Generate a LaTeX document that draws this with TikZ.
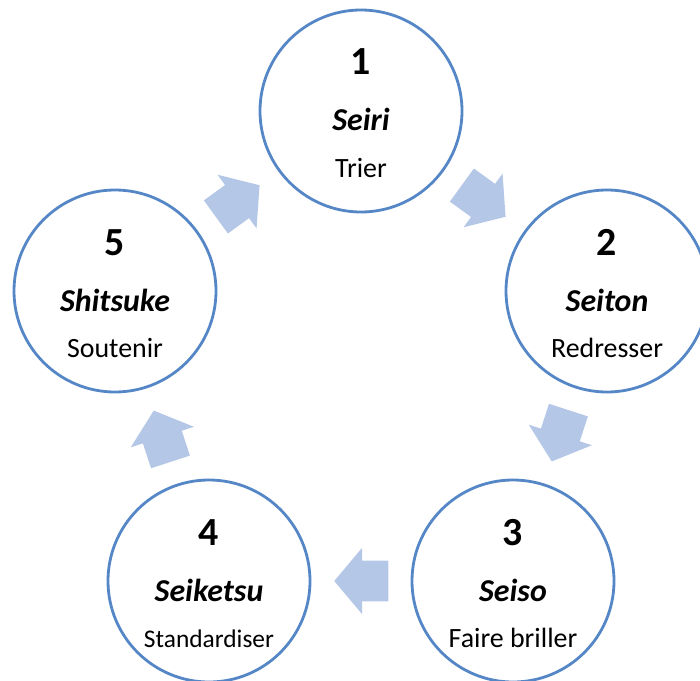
\documentclass[tikz,border=0pt]{standalone}
\usepackage{fontspec}
\setmainfont{Carlito}
\usetikzlibrary{shapes.arrows,calc}
\definecolor{ringblue}{HTML}{5587C7}
\definecolor{arrowblue}{HTML}{B4C7E7}
\tikzset{
  stage/.style={circle, draw=ringblue, line width=2.8bp, fill=white,
    minimum size=202bp, inner sep=0pt},
  stagenum/.style={anchor=base, font=\fontsize{40}{40}\selectfont\bfseries},
  stagename/.style={anchor=base, font=\fontsize{32}{32}\selectfont\bfseries\itshape},
  stagetext/.style={anchor=base, font=\fontsize{28}{28}\selectfont},
  flow/.style={single arrow, fill=arrowblue, draw=none, inner sep=0pt,
    minimum height=54bp, single arrow head extend=12.75bp,
    single arrow tip angle=100, anchor=tip},
}
% empty content whose height sets the width of an arrow's shaft
\newcommand{\shaftwidth}{\rule{0pt}{40.5bp}}
\begin{document}
\begin{tikzpicture}[x=1bp,y=-1bp]
\useasboundingbox (0,0) rectangle (700,681);

% the five stages of the cycle
\node[stage] (c1) at (361,111) {};
\node[stage] (c2) at (607,291) {};
\node[stage] (c3) at (513,581) {};
\node[stage] (c4) at (209,581) {};
\node[stage] (c5) at (115,291) {};

% labels: number, Japanese term, French meaning
\foreach \c/\n/\name/\txt in {c1/1/Seiri/Trier, c2/2/Seiton/Redresser,
    c3/3/Seiso/Faire briller,
    c4/4/Seiketsu/{\fontsize{25.5}{25.5}\selectfont Standardiser},
    c5/5/Shitsuke/Soutenir}{
  \node[stagenum]  (\c-num)  at ([yshift=36bp]\c.center) {\n};
  \node[stagename] (\c-name) at ([yshift=-20bp]\c.center) {\name};
  \node[stagetext] (\c-text) at ([yshift=-66bp]\c.center) {\txt};
}

% block arrows between consecutive stages, centred between them
\coordinate (m12) at ($(c1)!0.5!(c2)$);
\coordinate (m23) at ($(c2)!0.5!(c3)$);
\coordinate (m34) at ($(c3)!0.5!(c4)$);
\coordinate (m45) at ($(c4)!0.5!(c5)$);
\coordinate (m51) at ($(c5)!0.5!(c1)$);
\node[flow, rotate=-36]  (a12) at ($(m12)!27bp!(c2)$) {\shaftwidth};
\node[flow, rotate=-108] (a23) at ($(m23)!27bp!(c3)$) {\shaftwidth};
\node[flow, rotate=180]  (a34) at ($(m34)!27bp!(c4)$) {\shaftwidth};
\node[flow, rotate=108]  (a45) at ($(m45)!27bp!(c5)$) {\shaftwidth};
\node[flow, rotate=36]   (a51) at ($(m51)!27bp!(c1)$) {\shaftwidth};
\end{tikzpicture}
\end{document}
